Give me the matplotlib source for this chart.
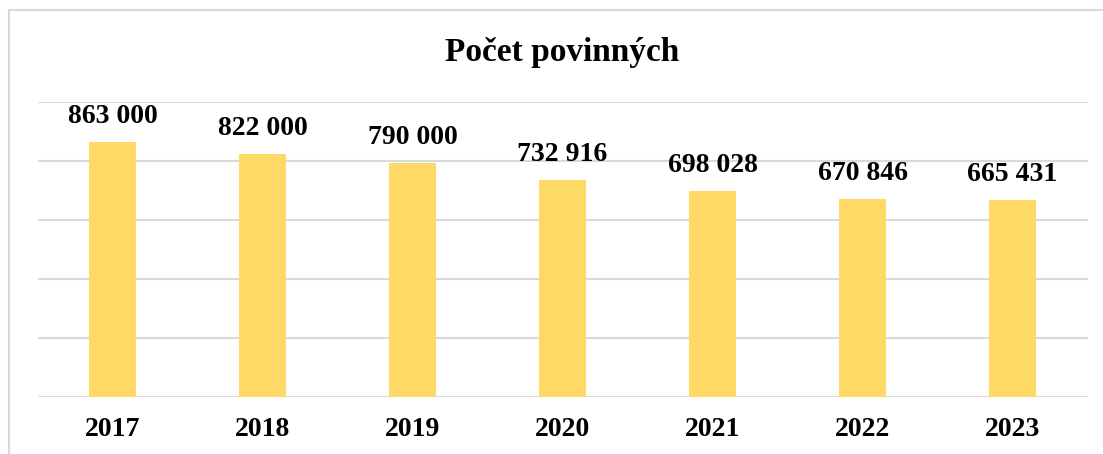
import matplotlib.pyplot as plt
from matplotlib.patches import Rectangle

years = ["2017", "2018", "2019", "2020", "2021", "2022", "2023"]
counts = [863000, 822000, 790000, 732916, 698028, 670846, 665431]
title = "Počet povinných"

W, H = 1103, 454
fig = plt.figure(figsize=(W / 100, H / 100), dpi=100)
plt.rcParams['font.family'] = ['Liberation Serif', 'DejaVu Serif']

# chart area frame (cut off at right / bottom like the screenshot)
fig.patches.append(Rectangle((9 / W, -0.1), 1.2, 1 - 10 / H + 0.1,
                             transform=fig.transFigure, fill=False,
                             edgecolor="#d9d9d9", linewidth=1.5))

ax = fig.add_axes([37.5 / W, 1 - 396.7 / H, 1050 / W, (396.7 - 101.5) / H])
x = range(len(years))
ax.bar(x, counts, width=0.313, color="#ffd966", zorder=3)
ax.set_xlim(-0.5, len(years) - 0.5)
ax.set_ylim(0, 1000000)
ax.set_yticks(range(0, 1000001, 200000))
ax.yaxis.grid(True, color="#d9d9d9", linewidth=1.5, zorder=0)
ax.tick_params(left=False, labelleft=False, bottom=False)
ax.set_xticks(list(x))
ax.set_xticklabels(years, fontsize=20, fontweight="bold")
ax.tick_params(axis="x", pad=11)
for s in ["top", "right", "left", "bottom"]:
    ax.spines[s].set_visible(False)

for xi, v in zip(x, counts):
    lbl = f"{v:,}".replace(",", " ")
    ax.annotate(lbl, (xi, v), xytext=(0, 13), textcoords="offset pixels",
                ha="center", va="bottom", fontsize=20, fontweight="bold")

fig.text(562 / W, 1 - 52 / H, title, ha="center", va="center",
         fontsize=24, fontweight="bold")

fig.savefig("out.png", dpi=100)
